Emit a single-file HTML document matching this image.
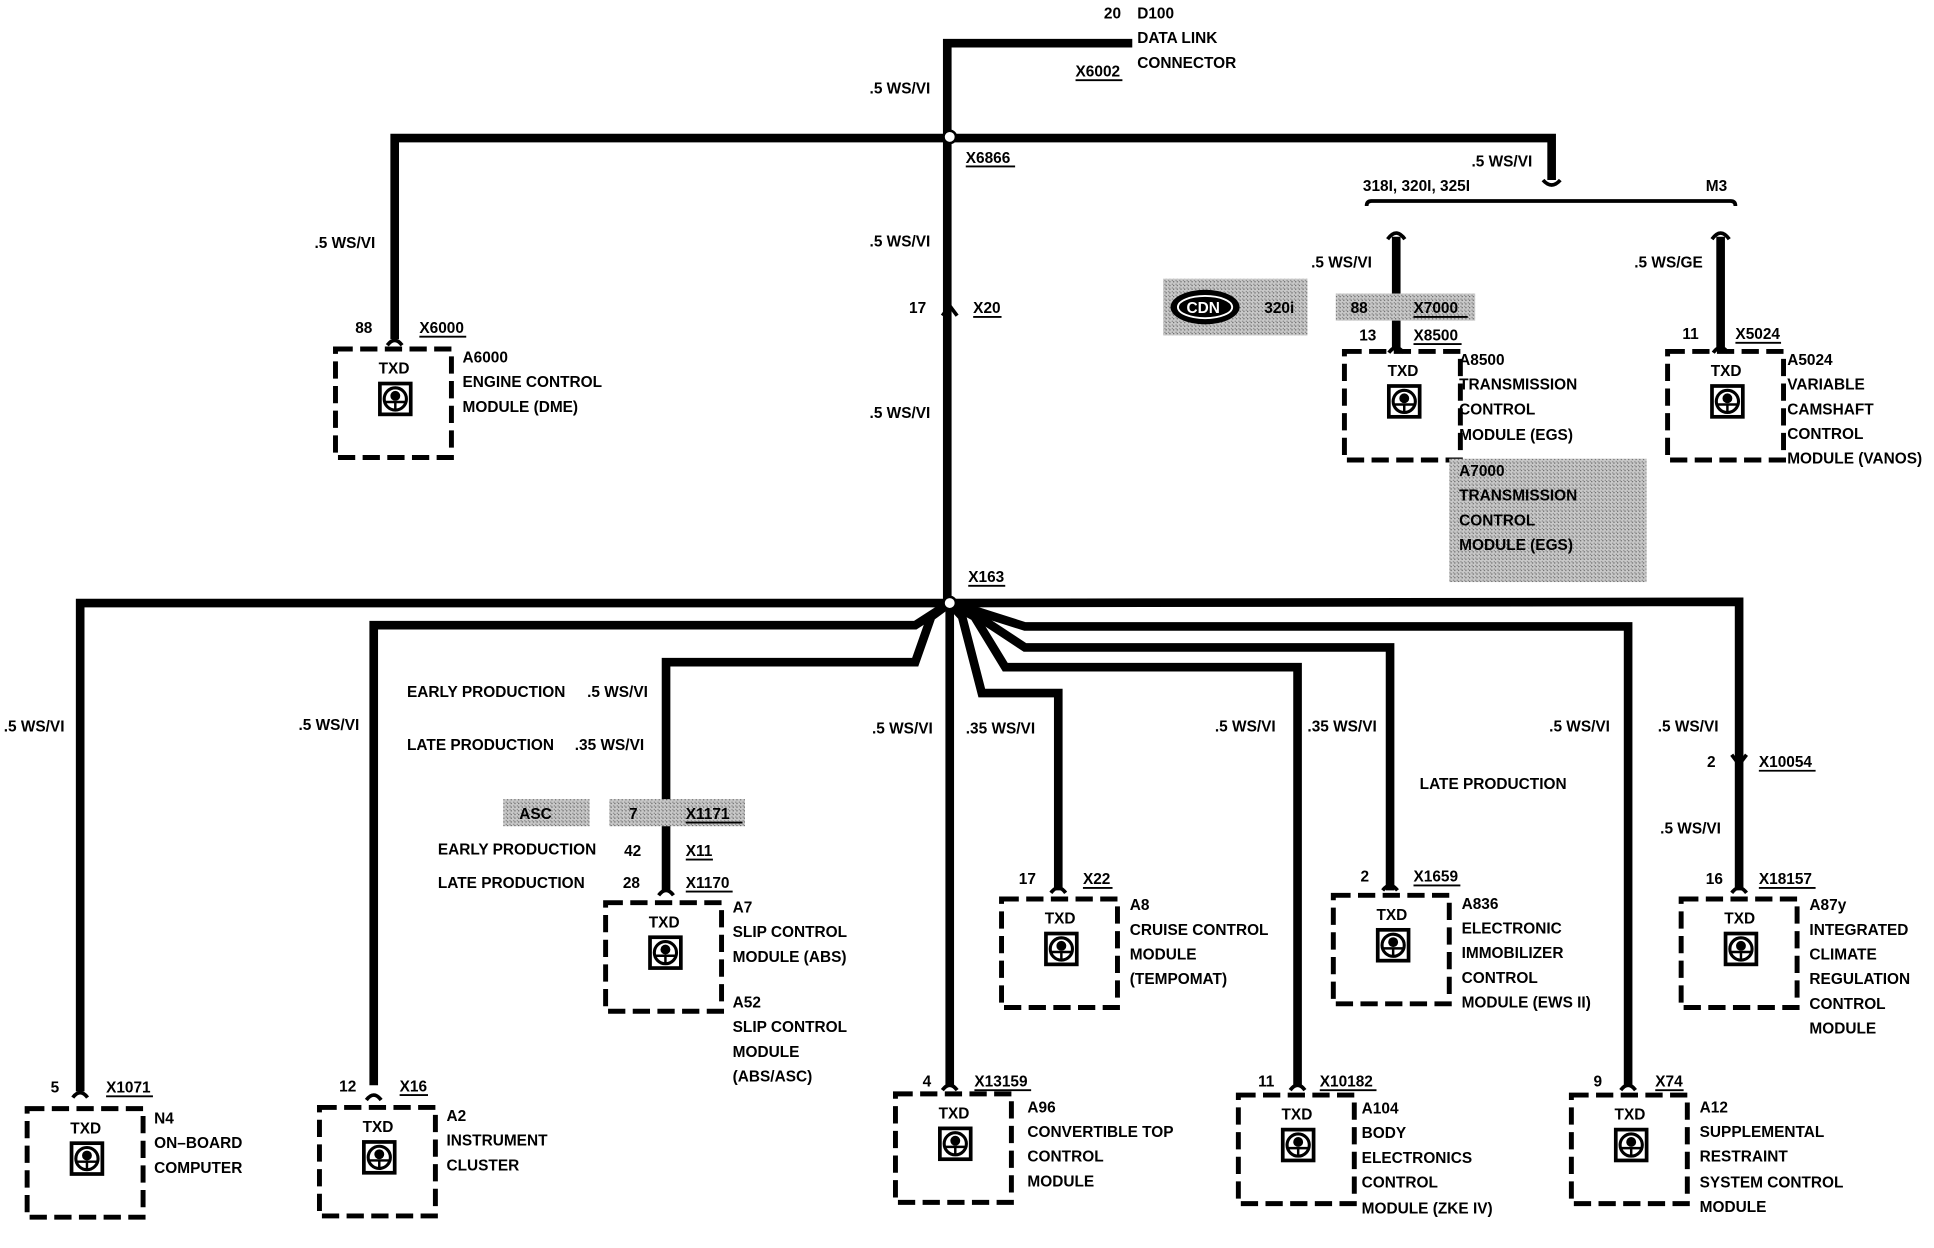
<!DOCTYPE html>
<html><head><meta charset="utf-8"><style>
html,body{margin:0;padding:0;background:#fff;}
svg{display:block;}
text{font-family:"Liberation Sans",Arial,sans-serif;font-weight:bold;font-size:12.5px;fill:#000;}
</style></head><body>
<svg width="1934" height="1248" viewBox="0 0 1568 1012" preserveAspectRatio="none" xmlns="http://www.w3.org/2000/svg">
<defs>
<pattern id="dots" width="3" height="3" patternUnits="userSpaceOnUse"><rect width="3" height="3" fill="#c8c8c8"/><rect width="1" height="1" fill="#666"/><rect x="2" y="2" width="1" height="1" fill="#888"/></pattern>
<g id="box">
<rect x="0" y="0" width="94" height="88" fill="none" stroke="#000" stroke-width="4" stroke-dasharray="14,6"/>
<text x="35" y="20">TXD</text>
<rect x="36" y="28" width="25" height="25" fill="#fff" stroke="#000" stroke-width="3"/>
<circle cx="48.5" cy="40.5" r="9" fill="none" stroke="#000" stroke-width="2.5"/>
<circle cx="48.5" cy="38" r="4" fill="#000"/>
<path d="M40,43 L57,43 M48.5,42 L48.5,49" stroke="#000" stroke-width="2"/>
</g>
</defs>
<g fill="none" stroke="#000" stroke-width="7" stroke-linejoin="miter">
<path d="M918,35 L768,35 L768,489"/>
<path d="M320,275 L320,112 L1258,112 L1258,146"/>
<path d="M1132,282 L1132,192"/>
<path d="M1395,282 L1395,192"/>
<path d="M770,489 L770,880"/>
<path d="M770,489 L65,489 L65,885"/>
<path d="M770,489 L742,507 L303,507 L303,880"/>
<path d="M770,489 L755,500 L742,537 L540,537 L540,722"/>
<path d="M770,489 L780,500 L796,562 L858,562 L858,722"/>
<path d="M770,489 L790,500 L815,541 L1052,541 L1052,880"/>
<path d="M770,489 L790,498 L831,525 L1127,525 L1127,722"/>
<path d="M770,489 L790,495 L831,508 L1320,508 L1320,880"/>
<path d="M770,489 L1410,488 L1410,722"/>
</g>
<path d="M1108,167 q0,-4 4,-4 L1403,163 q4,0 4,4" fill="none" stroke="#000" stroke-width="3"/>
<path d="M1251,146 q7,8 14,0" fill="none" stroke="#000" stroke-width="3"/>
<path d="M1125,194 q7,-10 14,0" fill="none" stroke="#000" stroke-width="3"/>
<path d="M1388,194 q7,-10 14,0" fill="none" stroke="#000" stroke-width="3"/>
<circle cx="770" cy="111" r="5" fill="#fff" stroke="#000" stroke-width="2"/>
<circle cx="770" cy="489" r="5" fill="#fff" stroke="#000" stroke-width="2"/>
<path d="M764,256 L770,248 L776,256" fill="none" stroke="#000" stroke-width="3"/>
<path d="M1404,612 L1410,620 L1416,612" fill="none" stroke="#000" stroke-width="3"/>
<g fill="none" stroke="#000" stroke-width="3">
<path d="M314,280 q6,-8 12,0"/><path d="M1126,286 q6,-8 12,0"/><path d="M1389,286 q6,-8 12,0"/>
<path d="M59,890 q6,-8 12,0"/><path d="M297,892 q6,-8 12,0"/><path d="M534,726 q6,-8 12,0"/>
<path d="M852,724 q6,-8 12,0"/><path d="M1121,722 q6,-8 12,0"/><path d="M1404,724 q6,-8 12,0"/>
<path d="M764,884 q6,-8 12,0"/><path d="M1046,884 q6,-8 12,0"/><path d="M1314,884 q6,-8 12,0"/>
</g>
<use href="#box" x="272" y="283"/>
<use href="#box" x="1090" y="285"/>
<use href="#box" x="1352" y="285"/>
<use href="#box" x="22" y="899"/>
<use href="#box" x="259" y="898"/>
<use href="#box" x="491" y="732"/>
<use href="#box" x="812" y="729"/>
<use href="#box" x="1081" y="726"/>
<use href="#box" x="1363" y="729"/>
<use href="#box" x="726" y="887"/>
<use href="#box" x="1004" y="888"/>
<use href="#box" x="1274" y="888"/>
<rect x="943" y="226" width="117" height="46" fill="url(#dots)"/>
<ellipse cx="977" cy="249" rx="28" ry="14" fill="#000"/>
<ellipse cx="977" cy="249" rx="22" ry="9" fill="none" stroke="#fff" stroke-width="1.5"/>
<text x="962" y="254" style="fill:#fff">CDN</text>
<text x="1025" y="254">320i</text>
<rect x="1083" y="238" width="113" height="22" fill="url(#dots)"/>
<rect x="1175" y="372" width="160" height="100" fill="url(#dots)"/>
<rect x="408" y="648" width="70" height="22" fill="url(#dots)"/>
<rect x="494" y="648" width="110" height="22" fill="url(#dots)"/>
<g fill="none" stroke="#000" stroke-width="1.5">
<path d="M872,65 H910 M783,135 H823 M789,257 H812 M1146,257 H1190 M340,273 H378 M1146,279 H1185 M1407,278 H1444 M785,475 H815 M1426,625 H1472 M556,667 H602 M556,697 H578 M556,723 H594 M878,720 H902 M1146,718 H1184 M1426,720 H1472 M86,889 H124 M324,888 H347 M790,884 H836 M1070,884 H1116 M1342,884 H1365"/>
</g>
<g>
<text x="895" y="15">20</text><text x="922" y="15">D100</text>
<text x="922" y="35">DATA LINK</text><text x="922" y="55">CONNECTOR</text>
<text x="872" y="62">X6002</text>
<text x="705" y="76">.5 WS/VI</text>
<text x="783" y="132">X6866</text>
<text x="1193" y="135">.5 WS/VI</text>
<text x="1105" y="155">318I, 320I, 325I</text>
<text x="1383" y="155">M3</text>
<text x="255" y="201">.5 WS/VI</text>
<text x="705" y="200">.5 WS/VI</text>
<text x="1063" y="217">.5 WS/VI</text>
<text x="1325" y="217">.5 WS/GE</text>
<text x="737" y="254">17</text><text x="789" y="254">X20</text>
<text x="1095" y="254">88</text><text x="1146" y="254">X7000</text>
<text x="288" y="270">88</text><text x="340" y="270">X6000</text>
<text x="1102" y="276">13</text><text x="1146" y="276">X8500</text>
<text x="1364" y="275">11</text><text x="1407" y="275">X5024</text>
<text x="375" y="294">A6000</text><text x="375" y="314">ENGINE CONTROL</text><text x="375" y="334">MODULE (DME)</text>
<text x="1183" y="296">A8500</text><text x="1183" y="316">TRANSMISSION</text><text x="1183" y="336">CONTROL</text><text x="1183" y="357">MODULE (EGS)</text>
<text x="1449" y="296">A5024</text><text x="1449" y="316">VARIABLE</text><text x="1449" y="336">CAMSHAFT</text><text x="1449" y="356">CONTROL</text><text x="1449" y="376">MODULE (VANOS)</text>
<text x="705" y="339">.5 WS/VI</text>
<text x="1183" y="386">A7000</text><text x="1183" y="406">TRANSMISSION</text><text x="1183" y="426">CONTROL</text><text x="1183" y="446">MODULE (EGS)</text>
<text x="785" y="472">X163</text>
<text x="330" y="565">EARLY PRODUCTION</text><text x="476" y="565">.5 WS/VI</text>
<text x="330" y="608">LATE PRODUCTION</text><text x="466" y="608">.35 WS/VI</text>
<text x="3" y="593">.5 WS/VI</text>
<text x="242" y="592">.5 WS/VI</text>
<text x="707" y="595">.5 WS/VI</text>
<text x="783" y="595">.35 WS/VI</text>
<text x="985" y="593">.5 WS/VI</text>
<text x="1060" y="593">.35 WS/VI</text>
<text x="1256" y="593">.5 WS/VI</text>
<text x="1344" y="593">.5 WS/VI</text>
<text x="1151" y="640">LATE PRODUCTION</text>
<text x="1384" y="622">2</text><text x="1426" y="622">X10054</text>
<text x="1346" y="676">.5 WS/VI</text>
<text x="421" y="664">ASC</text><text x="510" y="664">7</text><text x="556" y="664">X1171</text>
<text x="355" y="693">EARLY PRODUCTION</text><text x="506" y="694">42</text><text x="556" y="694">X11</text>
<text x="355" y="720">LATE PRODUCTION</text><text x="505" y="720">28</text><text x="556" y="720">X1170</text>
<text x="826" y="717">17</text><text x="878" y="717">X22</text>
<text x="1103" y="715">2</text><text x="1146" y="715">X1659</text>
<text x="1383" y="717">16</text><text x="1426" y="717">X18157</text>
<text x="594" y="740">A7</text><text x="594" y="760">SLIP CONTROL</text><text x="594" y="780">MODULE (ABS)</text>
<text x="594" y="817">A52</text><text x="594" y="837">SLIP CONTROL</text><text x="594" y="857">MODULE</text><text x="594" y="877">(ABS/ASC)</text>
<text x="916" y="738">A8</text><text x="916" y="758">CRUISE CONTROL</text><text x="916" y="778">MODULE</text><text x="916" y="798">(TEMPOMAT)</text>
<text x="1185" y="737">A836</text><text x="1185" y="757">ELECTRONIC</text><text x="1185" y="777">IMMOBILIZER</text><text x="1185" y="797">CONTROL</text><text x="1185" y="817">MODULE (EWS II)</text>
<text x="1467" y="738">A87y</text><text x="1467" y="758">INTEGRATED</text><text x="1467" y="778">CLIMATE</text><text x="1467" y="798">REGULATION</text><text x="1467" y="818">CONTROL</text><text x="1467" y="838">MODULE</text>
<text x="41" y="886">5</text><text x="86" y="886">X1071</text>
<text x="275" y="885">12</text><text x="324" y="885">X16</text>
<text x="748" y="881">4</text><text x="790" y="881">X13159</text>
<text x="1020" y="881">11</text><text x="1070" y="881">X10182</text>
<text x="1292" y="881">9</text><text x="1342" y="881">X74</text>
<text x="125" y="911">N4</text><text x="125" y="931">ON–BOARD</text><text x="125" y="951">COMPUTER</text>
<text x="362" y="909">A2</text><text x="362" y="929">INSTRUMENT</text><text x="362" y="949">CLUSTER</text>
<text x="833" y="902">A96</text><text x="833" y="922">CONVERTIBLE TOP</text><text x="833" y="942">CONTROL</text><text x="833" y="962">MODULE</text>
<text x="1104" y="903">A104</text><text x="1104" y="923">BODY</text><text x="1104" y="943">ELECTRONICS</text><text x="1104" y="963">CONTROL</text><text x="1104" y="984">MODULE (ZKE IV)</text>
<text x="1378" y="902">A12</text><text x="1378" y="922">SUPPLEMENTAL</text><text x="1378" y="942">RESTRAINT</text><text x="1378" y="963">SYSTEM CONTROL</text><text x="1378" y="983">MODULE</text>
</g>
</svg>
</body></html>
